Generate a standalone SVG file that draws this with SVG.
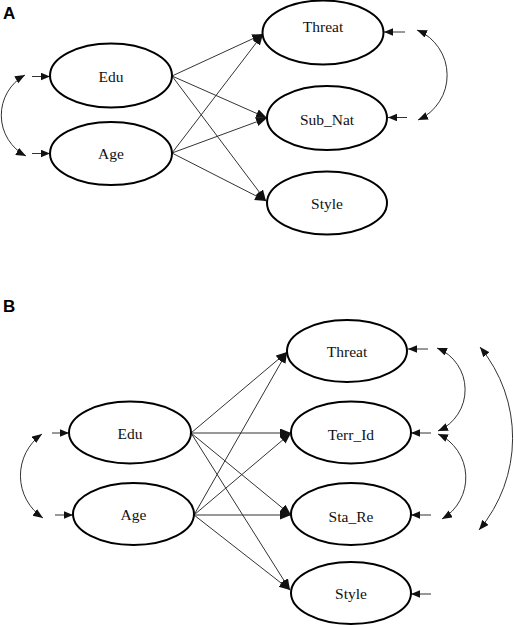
<svg xmlns="http://www.w3.org/2000/svg" width="514" height="625" viewBox="0 0 514 625">
<defs>
<style>
.node ellipse{fill:#fff;stroke:#000;stroke-width:2}
.node text{font-size:15.5px;fill:#111;text-anchor:middle}
.edge{stroke:#333;stroke-width:1;fill:none}
.main{marker-end:url(#ah)}
.err{marker-end:url(#sh)}
.cov{marker-start:url(#dh);marker-end:url(#dh)}
.panel{font-weight:bold;font-size:17px;fill:#000}
</style>
<marker id="ah" markerUnits="userSpaceOnUse" markerWidth="12" markerHeight="10" refX="11" refY="4.5" orient="auto"><path d="M0,0 L11,4.5 L0,9 z" fill="#111"/></marker>
<marker id="sh" markerUnits="userSpaceOnUse" markerWidth="10" markerHeight="8" refX="9" refY="3.75" orient="auto"><path d="M0,0 L9,3.75 L0,7.5 z" fill="#111"/></marker>
<marker id="dh" markerUnits="userSpaceOnUse" markerWidth="11" markerHeight="9" refX="10" refY="4" orient="auto-start-reverse"><path d="M0,0 L10,4 L0,8 z" fill="#111"/></marker>
</defs>
<rect width="514" height="625" fill="#fff"/>
<g font-family="'Liberation Sans', Arial, sans-serif">
<text class="panel" x="3" y="19">A</text>
<text class="panel" x="3" y="312">B</text>
</g>

<g id="connectors">
<!-- Panel A paths -->
<line class="edge main" x1="172" y1="76" x2="263" y2="34"/>
<line class="edge main" x1="172" y1="76" x2="267" y2="118"/>
<line class="edge main" x1="172" y1="76" x2="266" y2="201"/>
<line class="edge main" x1="172" y1="153" x2="263" y2="34"/>
<line class="edge main" x1="172" y1="153" x2="267" y2="118"/>
<line class="edge main" x1="172" y1="153" x2="266" y2="201"/>
<!-- Panel A error arrows -->
<line class="edge err" x1="32" y1="76.5" x2="50" y2="76.5"/>
<line class="edge err" x1="32" y1="153.5" x2="50" y2="153.5"/>
<line class="edge err" x1="405" y1="32" x2="384" y2="32"/>
<line class="edge err" x1="407" y1="117.5" x2="388" y2="117.5"/>
<!-- Panel A covariances -->
<path class="edge cov" d="M25,75 A46 46 0 0 0 26,156"/>
<path class="edge cov" d="M417,30 A49 49 0 0 1 418,120"/>

<!-- Panel B paths -->
<line class="edge main" x1="191" y1="433" x2="287" y2="352"/>
<line class="edge main" x1="191" y1="433" x2="291" y2="433"/>
<line class="edge main" x1="191" y1="433" x2="291" y2="515"/>
<line class="edge main" x1="191" y1="433" x2="290" y2="590"/>
<line class="edge main" x1="194" y1="515" x2="287" y2="352"/>
<line class="edge main" x1="194" y1="515" x2="291" y2="433"/>
<line class="edge main" x1="194" y1="515" x2="291" y2="515"/>
<line class="edge main" x1="194" y1="515" x2="290" y2="590"/>
<!-- Panel B error arrows -->
<line class="edge err" x1="52" y1="433" x2="69" y2="433"/>
<line class="edge err" x1="55" y1="515" x2="73" y2="515"/>
<line class="edge err" x1="428" y1="349" x2="408" y2="349"/>
<line class="edge err" x1="431" y1="433" x2="411" y2="433"/>
<line class="edge err" x1="431" y1="515" x2="411" y2="515"/>
<line class="edge err" x1="431" y1="594" x2="411" y2="594"/>
<!-- Panel B covariances -->
<path class="edge cov" d="M42,434 A51 51 0 0 0 43,518"/>
<path class="edge cov" d="M437,348 A45 45 0 0 1 438,431"/>
<path class="edge cov" d="M438,434 A48 48 0 0 1 442,519"/>
<path class="edge cov" d="M480,347 A143 143 0 0 1 479,530"/>
</g>

<g font-family="'Liberation Serif', 'Times New Roman', serif">
<g id="A_Edu" class="node"><ellipse cx="111" cy="75.5" rx="61" ry="32"/><text x="111" y="82">Edu</text></g>
<g id="A_Age" class="node"><ellipse cx="111" cy="153.5" rx="61" ry="31.5"/><text x="111" y="159">Age</text></g>
<g id="A_Threat" class="node"><ellipse cx="323" cy="32.5" rx="60.5" ry="32"/><text x="323" y="31.5">Threat</text></g>
<g id="A_Sub_Nat" class="node"><ellipse cx="327" cy="118" rx="60" ry="32"/><text x="327" y="124.5">Sub_Nat</text></g>
<g id="A_Style" class="node"><ellipse cx="327" cy="203" rx="60" ry="31.5"/><text x="327" y="209">Style</text></g>

<g id="B_Edu" class="node"><ellipse cx="130" cy="432.5" rx="61" ry="31"/><text x="130" y="439">Edu</text></g>
<g id="B_Age" class="node"><ellipse cx="133.5" cy="514" rx="60.5" ry="31"/><text x="133.5" y="520">Age</text></g>
<g id="B_Threat" class="node"><ellipse cx="347" cy="351" rx="60" ry="31"/><text x="347" y="357">Threat</text></g>
<g id="B_Terr_Id" class="node"><ellipse cx="351" cy="432.5" rx="60" ry="31"/><text x="351" y="439.5">Terr_Id</text></g>
<g id="B_Sta_Re" class="node"><ellipse cx="351" cy="514" rx="60" ry="31"/><text x="351" y="521.5">Sta_Re</text></g>
<g id="B_Style" class="node"><ellipse cx="351" cy="593" rx="60" ry="31"/><text x="351" y="599">Style</text></g>
</g>
</svg>
